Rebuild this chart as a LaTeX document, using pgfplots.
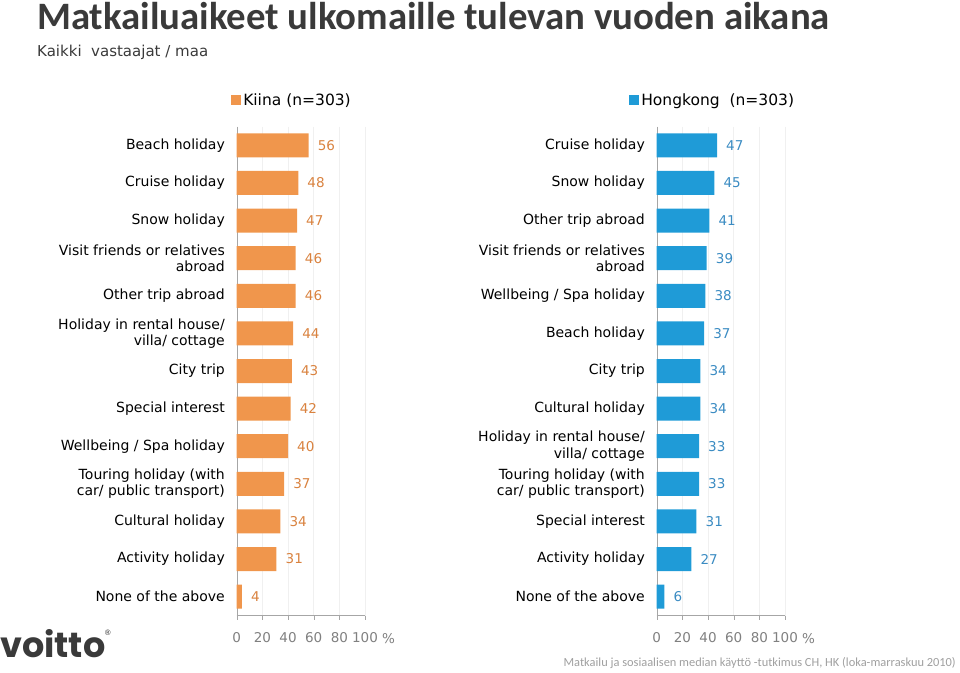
\documentclass[border=0pt]{standalone}
\usepackage{fontspec}
\setmainfont{DejaVu Sans}
\newfontfamily\calibri{Carlito}
\newfontfamily\poppins{Poppins}
\usepackage{pgfplots}
\pgfplotsset{compat=1.18}

\definecolor{orbar}{HTML}{F0964C}
\definecolor{ortxt}{HTML}{D9823F}
\definecolor{blbar}{HTML}{1F9BD7}
\definecolor{bltxt}{HTML}{3A8BC2}
\definecolor{ticktxt}{HTML}{808080}
\definecolor{titletxt}{HTML}{3A3A3A}

\pgfplotsset{
  xbar legend/.style={
    /pgfplots/legend image code/.code={\fill[##1] (0pt,-5pt) rectangle (10pt,5pt);}},
  panel/.style={
    xbar, scale only axis, width=128.3pt, height=489pt,
    anchor=south west,
    xmin=0, xmax=100, ymin=-0.5, ymax=12.5, y dir=reverse,
    ytick={0,...,12},
    bar width=24pt,
    axis x line*=bottom, axis y line*=left,
    axis line style={-, draw=gray!70},
    xtick={0,20,...,100},
    tick align=outside,
    major tick length=4pt,
    x tick style={gray!70},
    y tick style={draw=none},
    xmajorgrids, grid style={gray!12},
    /pgf/number format/assume math mode=true,
    xticklabel style={font=\fontsize{13.5}{14}\selectfont, text=ticktxt, anchor=north, inner sep=0pt, yshift=-13pt},
    yticklabel style={font=\fontsize{14}{16.5}\selectfont, align=right, inner sep=0pt, xshift=-7.7pt},
    nodes near coords,
    nodes near coords style={anchor=west, xshift=9pt, inner sep=0pt, font=\fontsize{13.5}{14}\selectfont},
    legend style={draw=none, inner sep=0pt, font=\fontsize{15.5}{16}\selectfont, anchor=west, legend cell align=left},
  },
}

\begin{document}
\begin{tikzpicture}
\path[use as bounding box] (0,0) rectangle (960pt,672pt);

% Kiina
\begin{axis}[panel,
  at={(236.7pt,56.5pt)},
  yticklabels={Beach holiday, Cruise holiday, Snow holiday,
    {Visit friends or relatives\\abroad}, Other trip abroad,
    {Holiday in rental house/\\villa/ cottage}, City trip, Special interest,
    Wellbeing / Spa holiday, {Touring holiday (with\\car/ public transport)},
    Cultural holiday, Activity holiday, None of the above},
  nodes near coords style={text=ortxt},
  legend style={at={(axis description cs:-0.044,1.054)}},
]
\addplot[fill=orbar, draw=none] coordinates {
  (56,0) (48,1) (47,2) (46,3) (46,4) (44,5) (43,6)
  (42,7) (40,8) (37,9) (34,10) (31,11) (4,12)
};
\legend{Kiina (n=303)}
\end{axis}

% Hongkong
\begin{axis}[panel,
  at={(656.7pt,56.5pt)},
  yticklabels={Cruise holiday, Snow holiday, Other trip abroad,
    {Visit friends or relatives\\abroad}, Wellbeing / Spa holiday,
    Beach holiday, City trip, Cultural holiday,
    {Holiday in rental house/\\villa/ cottage}, {Touring holiday (with\\car/ public transport)},
    Special interest, Activity holiday, None of the above},
  nodes near coords style={text=bltxt},
  legend style={at={(axis description cs:-0.215,1.054)}},
]
\addplot[fill=blbar, draw=none] coordinates {
  (47,0) (45,1) (41,2) (39,3) (38,4) (37,5) (34,6)
  (34,7) (33,8) (33,9) (31,10) (27,11) (6,12)
};
\legend{Hongkong\ \ (n=303)}
\end{axis}

% percent signs after the 100 tick labels
\node[anchor=north west, inner sep=0pt, text=ticktxt, font=\fontsize{13.5}{14}\selectfont] at (382pt,39pt) {\%};
\node[anchor=north west, inner sep=0pt, text=ticktxt, font=\fontsize{13.5}{14}\selectfont] at (802pt,39pt) {\%};

% titles
\node[anchor=base west, inner sep=0pt, text=titletxt] at (37pt,642pt)
  {\calibri\bfseries\fontsize{38.8}{42}\selectfont Matkailuaikeet ulkomaille tulevan vuoden aikana};
\node[anchor=base west, inner sep=0pt, text=titletxt] at (37pt,615.5pt)
  {\fontsize{15}{18}\selectfont Kaikki\ \ vastaajat / maa};

% footer and logo
\node[anchor=base east, inner sep=0pt, text=gray!75] at (956pt,6pt)
  {\calibri\fontsize{12.4}{14}\selectfont Matkailu ja sosiaalisen median käyttö -tutkimus CH, HK (loka-marraskuu 2010)};
\node[anchor=base west, inner sep=0pt, text=titletxt] at (0pt,15pt)
  {\poppins\bfseries\fontsize{35}{37}\selectfont voitto};
\node[anchor=base west, inner sep=0pt, text=titletxt] at (104pt,37pt)
  {\fontsize{7.5}{9}\selectfont ®};
\end{tikzpicture}
\end{document}
